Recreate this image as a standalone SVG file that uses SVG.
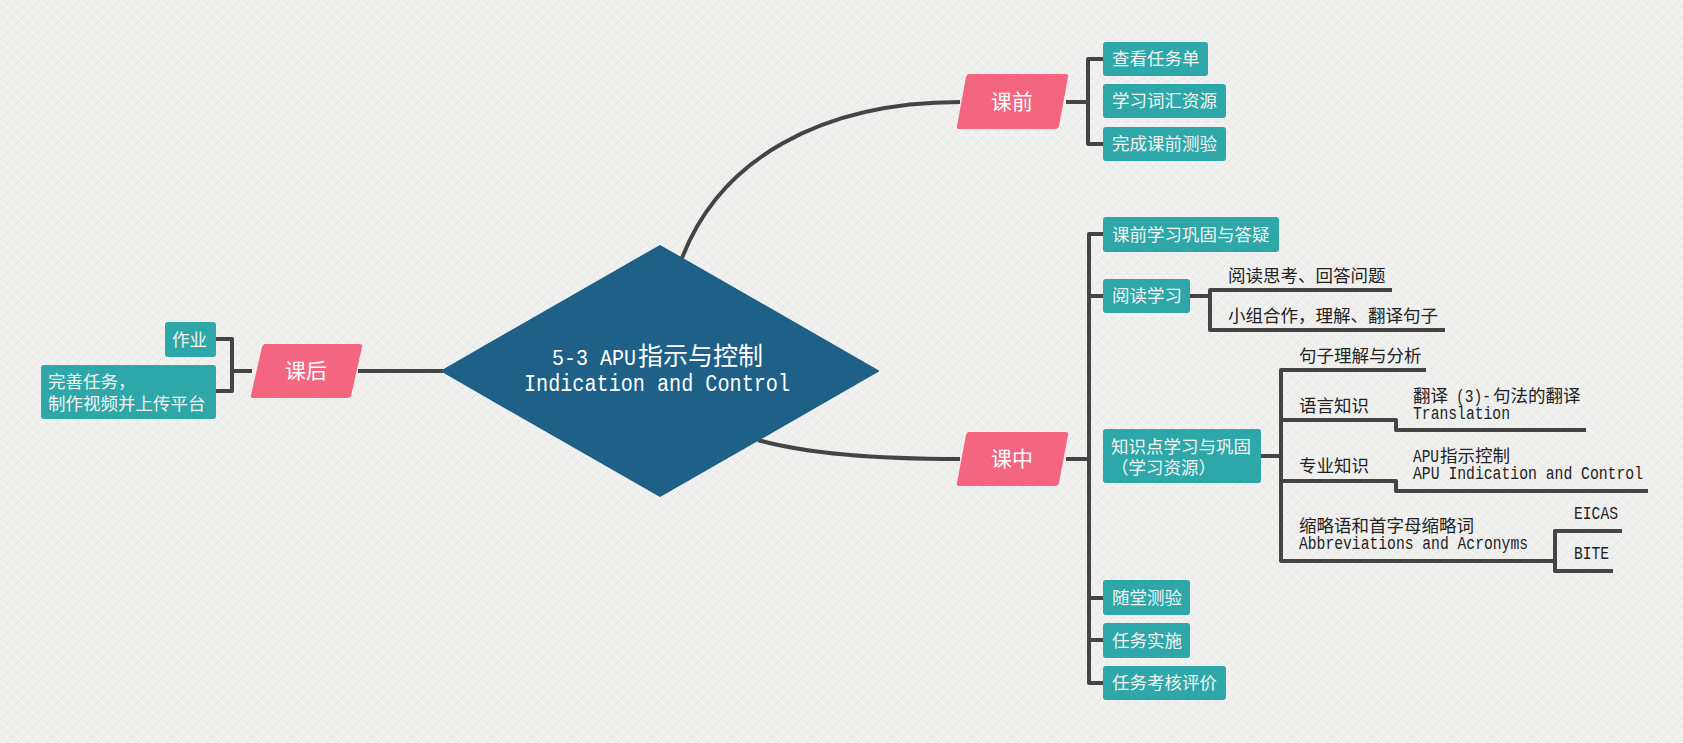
<svg xmlns="http://www.w3.org/2000/svg" width="1683" height="743" viewBox="0 0 1683 743">
<style>
.ln{fill:none;stroke:#444;stroke-width:4;stroke-linejoin:round;stroke-linecap:butt}
.box{fill:#2ea7a8}
.par{fill:#f4667f}
.bt{font-family:"Noto Sans CJK SC","Liberation Sans",sans-serif;font-size:17.5px;fill:#f4f4f4}
.pt{font-family:"Noto Sans CJK SC","Liberation Sans",sans-serif;font-size:21px;fill:#ffffff;text-anchor:middle}
.tx{font-family:"Noto Sans CJK SC","Liberation Sans",sans-serif;font-size:17.5px;fill:#222}
.mo{font-family:"Liberation Mono","Noto Sans CJK SC",monospace;font-size:17.5px;fill:#222}
.ct{font-family:"Liberation Mono","Noto Sans CJK SC",monospace;fill:#ffffff}
</style>
<defs>
<pattern id="bg" width="10" height="10" patternUnits="userSpaceOnUse">
<rect width="10" height="10" fill="#efefee"/>
<path d="M0,10 L10,0 M-2,2 L2,-2 M8,12 L12,8" stroke="#e4e4e4" stroke-width="1"/>
<path d="M0,0 L10,10" stroke="#f7f7f5" stroke-width="1"/>
</pattern>
</defs>
<rect width="1683" height="743" fill="url(#bg)"/>

<g id="connectors">
<path class="ln" d="M682,258 C720,160 820,102 960,102"/>
<path class="ln" d="M758,440 C800,452 860,459 960,459"/>
<path class="ln" d="M358,371 L443,371"/>
<path class="ln" d="M252,371 L232,371 M216,339 L232,339 L232,391 L216,391"/>
<path class="ln" d="M1066,102 L1088,102 M1103,59 L1088,59 L1088,144 L1103,144"/>
<path class="ln" d="M1066,459 L1089,459 M1103,234 L1089,234 L1089,683 L1103,683 M1089,296 L1103,296 M1089,598 L1103,598 M1089,640 L1103,640"/>
<path class="ln" d="M1190,296 L1210,296 M1392,290 L1210,290 L1210,330 L1445,330"/>
<path class="ln" d="M1261,456 L1281,456 M1426,370 L1281,370 L1281,561 L1555,561 M1281,420 L1396,420 L1396,430 L1586,430 M1281,481 L1396,481 L1396,491 L1648,491"/>
<path class="ln" d="M1622,531 L1555,531 L1555,571 L1613,571"/>
</g>

<g id="center">
<polygon points="660,246 878,371 660,496 442,371" fill="#1e6088" stroke="#1e6088" stroke-width="2" stroke-linejoin="round"/>
<text class="ct" x="552" y="365" font-size="22" textLength="84" lengthAdjust="spacingAndGlyphs">5-3 APU</text>
<text class="ct" x="638" y="365" font-size="25" font-family="Noto Sans CJK SC, sans-serif">指示与控制</text>
<text class="ct" x="524" y="391" font-size="23" textLength="266" lengthAdjust="spacingAndGlyphs">Indication and Control</text>
</g>

<g id="kehou">
<path class="par" d="M265,344 L360,344 Q363,344 362,347 L351,396 Q350,398 347,398 L253,398 Q250,398 251,395 L262,347 Q263,344 265,344 Z"/>
<text class="pt" x="306" y="378">课后</text>
</g>
<g id="zuoye">
<rect class="box" x="165" y="322" width="51" height="35" rx="3"/>
<text class="bt" x="172" y="345.5">作业</text>
</g>
<g id="wanshan">
<rect class="box" x="41" y="365" width="175" height="54" rx="3"/>
<text class="bt" x="48" y="388">完善任务，</text>
<text class="bt" x="48" y="410">制作视频并上传平台</text>
</g>

<g id="keqian">
<path class="par" d="M969,74 L1066,74 Q1069,74 1068,77 L1059,126 Q1058,129 1055,129 L959,129 Q956,129 957,126 L966,77 Q967,74 969,74 Z"/>
<text class="pt" x="1012" y="109">课前</text>
</g>
<g id="q1"><rect class="box" x="1103" y="42" width="105" height="34" rx="3"/><text class="bt" x="1112" y="65">查看任务单</text></g>
<g id="q2"><rect class="box" x="1103" y="84" width="123" height="34" rx="3"/><text class="bt" x="1112" y="107">学习词汇资源</text></g>
<g id="q3"><rect class="box" x="1103" y="127" width="123" height="34" rx="3"/><text class="bt" x="1112" y="150">完成课前测验</text></g>

<g id="kezhong">
<path class="par" d="M969,432 L1066,432 Q1069,432 1068,435 L1059,483 Q1058,486 1055,486 L959,486 Q956,486 957,483 L966,435 Q967,432 969,432 Z"/>
<text class="pt" x="1012" y="466">课中</text>
</g>
<g id="z1"><rect class="box" x="1103" y="217" width="176" height="35" rx="3"/><text class="bt" x="1112" y="240.5">课前学习巩固与答疑</text></g>
<g id="z2"><rect class="box" x="1103" y="279" width="87" height="34" rx="3"/><text class="bt" x="1112" y="302">阅读学习</text></g>
<g id="z2a"><text class="tx" x="1228" y="282">阅读思考、回答问题</text></g>
<g id="z2b"><text class="tx" x="1228" y="322">小组合作，理解、翻译句子</text></g>
<g id="z3"><rect class="box" x="1103" y="429" width="158" height="54" rx="3"/><text class="bt" x="1111" y="453">知识点学习与巩固</text><text class="bt" x="1111" y="474">（学习资源）</text></g>
<g id="z3a"><text class="tx" x="1299" y="362">句子理解与分析</text></g>
<g id="z3b"><text class="tx" x="1299" y="412">语言知识</text></g>
<g id="z3b1">
<text class="tx" x="1413" y="402">翻译</text>
<text class="mo" x="1456" y="402" textLength="35" lengthAdjust="spacingAndGlyphs">(3)-</text>
<text class="tx" x="1493" y="402">句法的翻译</text>
<text class="mo" x="1413" y="419" textLength="97" lengthAdjust="spacingAndGlyphs">Translation</text>
</g>
<g id="z3c"><text class="tx" x="1299" y="472">专业知识</text></g>
<g id="z3c1">
<text class="mo" x="1413" y="462" textLength="26" lengthAdjust="spacingAndGlyphs">APU</text>
<text class="tx" x="1440" y="462">指示控制</text>
<text class="mo" x="1413" y="479" textLength="230" lengthAdjust="spacingAndGlyphs">APU Indication and Control</text>
</g>
<g id="z3d">
<text class="tx" x="1299" y="532">缩略语和首字母缩略词</text>
<text class="mo" x="1299" y="549" textLength="229" lengthAdjust="spacingAndGlyphs">Abbreviations and Acronyms</text>
</g>
<g id="z3d1"><text class="mo" x="1574" y="519" textLength="44" lengthAdjust="spacingAndGlyphs">EICAS</text></g>
<g id="z3d2"><text class="mo" x="1574" y="559" textLength="35" lengthAdjust="spacingAndGlyphs">BITE</text></g>
<g id="z4"><rect class="box" x="1103" y="580" width="87" height="35" rx="3"/><text class="bt" x="1112" y="603.5">随堂测验</text></g>
<g id="z5"><rect class="box" x="1103" y="623" width="87" height="35" rx="3"/><text class="bt" x="1112" y="646.5">任务实施</text></g>
<g id="z6"><rect class="box" x="1103" y="666" width="123" height="34" rx="3"/><text class="bt" x="1112" y="689">任务考核评价</text></g>
</svg>
